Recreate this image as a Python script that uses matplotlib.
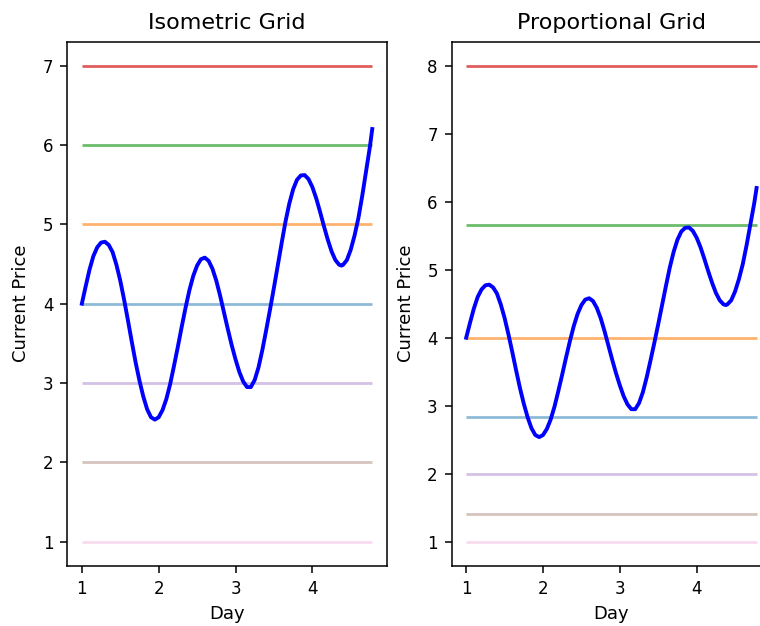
import matplotlib
matplotlib.use("Agg")
import matplotlib.pyplot as plt

# price path
day = [1.00, 1.05, 1.10, 1.15, 1.20, 1.25, 1.30, 1.35, 1.40, 1.45,
       1.50, 1.55, 1.60, 1.65, 1.70, 1.75, 1.80, 1.85, 1.90, 1.95,
       2.00, 2.05, 2.10, 2.15, 2.20, 2.25, 2.30, 2.35, 2.40, 2.45,
       2.50, 2.55, 2.60, 2.65, 2.70, 2.75, 2.80, 2.85, 2.90, 2.95,
       3.00, 3.05, 3.10, 3.15, 3.20, 3.25, 3.30, 3.35, 3.40, 3.45,
       3.50, 3.55, 3.60, 3.65, 3.70, 3.75, 3.80, 3.85, 3.90, 3.95,
       4.00, 4.05, 4.10, 4.15, 4.20, 4.25, 4.30, 4.35, 4.38, 4.40,
       4.45, 4.50, 4.55, 4.60, 4.65, 4.70, 4.75, 4.78]
price = [4.00, 4.22, 4.43, 4.60, 4.71, 4.77, 4.78, 4.74, 4.65, 4.49,
         4.29, 4.05, 3.79, 3.52, 3.26, 3.03, 2.83, 2.67, 2.57, 2.54,
         2.57, 2.66, 2.80, 2.99, 3.22, 3.46, 3.71, 3.95, 4.17, 4.35,
         4.48, 4.56, 4.58, 4.54, 4.44, 4.29, 4.10, 3.89, 3.68, 3.48,
         3.30, 3.14, 3.02, 2.95, 2.95, 3.04, 3.20, 3.42, 3.67, 3.93,
         4.20, 4.48, 4.76, 5.03, 5.26, 5.44, 5.56, 5.615, 5.62, 5.57,
         5.47, 5.33, 5.16, 4.98, 4.81, 4.66, 4.55, 4.49, 4.48, 4.49,
         4.55, 4.68, 4.86, 5.08, 5.36, 5.67, 5.98, 6.20]

# grid levels, in drawing order (tab10 colour order)
iso_levels = [4, 5, 6, 7, 3, 2, 1]
prop_levels = [2.828, 4, 5.657, 8, 2, 1.414, 1]

level_colors = ["tab:blue", "tab:orange", "tab:green", "tab:red",
                "tab:purple", "tab:brown", "tab:pink"]
level_alpha = [0.5, 0.6, 0.7, 0.75, 0.4, 0.35, 0.25]

fig = plt.figure(figsize=(7.6, 6.26), dpi=100)
ax1 = fig.add_axes([0.0886, 0.0963, 0.4203, 0.8371])
ax2 = fig.add_axes([0.5943, 0.0963, 0.4203, 0.8371])

for ax, levels, title in [(ax1, iso_levels, "Isometric Grid"),
                          (ax2, prop_levels, "Proportional Grid")]:
    for lvl, c, a in zip(levels, level_colors, level_alpha):
        ax.hlines(lvl, day[0], day[-1], color=c, alpha=a, linewidth=2)
    ax.plot(day, price, color="blue", linewidth=2.8)
    ax.set_title(title, fontsize=16, pad=9)
    ax.set_xlabel("Day", fontsize=13, labelpad=5)
    ax.set_ylabel("Current Price", fontsize=13, labelpad=9)
    ax.set_xticks([1, 2, 3, 4])
    ax.tick_params(labelsize=12, length=5, width=1.1, pad=5)
    for sp in ax.spines.values():
        sp.set_linewidth(1.1)

plt.savefig("out.png", dpi=100)
plt.close()
